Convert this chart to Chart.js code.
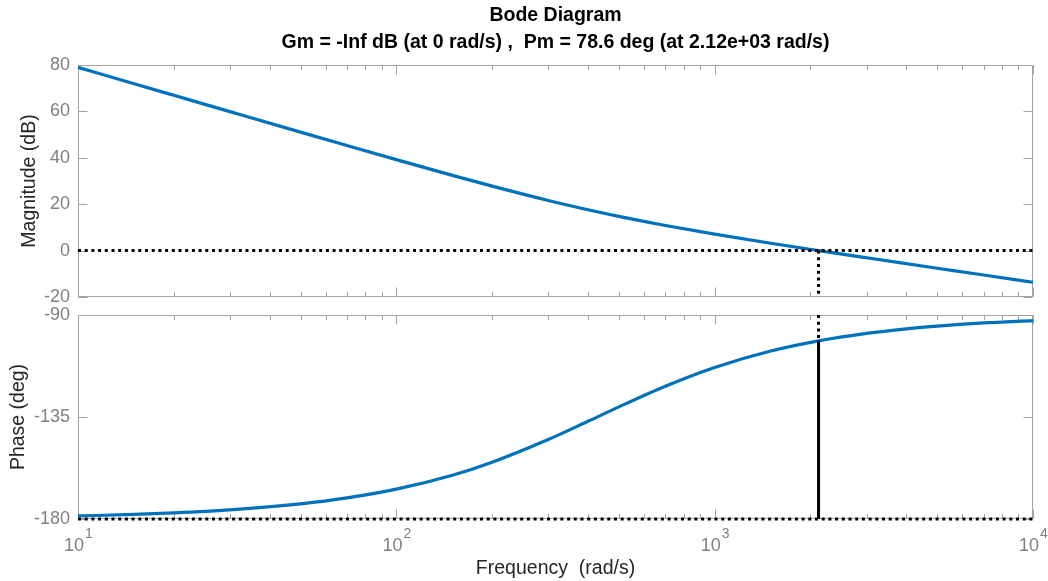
<!DOCTYPE html>
<html>
<head>
<meta charset="utf-8">
<title>Bode Diagram</title>
<script src="https://cdn.jsdelivr.net/npm/chart.js@4/dist/chart.umd.min.js"></script>
<style>
  html, body { margin: 0; padding: 0; background: #fff; }
  #wrap { position: relative; width: 1048px; height: 581px; overflow: hidden; }
  .pane { position: absolute; left: 0; }
  #mag-pane { top: 0; }
  #phase-pane { top: 290px; }
</style>
</head>
<body>
<div id="wrap">
  <div class="pane" id="mag-pane"><canvas id="mag-chart" width="1048" height="330"></canvas></div>
  <div class="pane" id="phase-pane"><canvas id="phase-chart" width="1048" height="291"></canvas></div>
</div>
<script>
// 周波数 (rad/s)
const freqs = [10, 15, 20, 30, 50, 70, 100, 150, 200, 300, 400, 500, 700,
  1000, 1500, 2120, 3000, 4000, 5000, 7000, 10000];
// ゲイン (dB)
const magDb = [78.97, 71.93, 66.94, 59.91, 51.07, 45.28, 39.20, 32.43, 27.79, 21.62,
  17.62, 14.75, 10.83, 7.08, 3.17, 0.00, -3.10, -5.64, -7.59, -10.53, -13.64];
// 位相 (deg)
const phaseDeg = [-178.66, -177.99, -177.32, -175.99, -173.33, -170.70, -166.83, -160.67,
  -154.93, -144.94, -136.90, -130.53, -121.42, -113.15, -105.91, -101.40, -98.11,
  -96.10, -94.89, -93.50, -92.45];

// 安定余裕
const crossoverFreq = 2120;
const phaseMargin = 78.6;
const phaseAtCrossover = -180 + phaseMargin;

// 軸の範囲と目盛り
const freqRange = [10, 10000];
const magRange = [-20, 80];
const magStep = 20;
const phaseRange = [-180, -90];
const phaseStep = 45;
const decadeTicks = [10, 100, 1000, 10000];
const decadeExponents = ['1', '2', '3', '4'];

const titleLines = ['Bode Diagram', 'Gm = -Inf dB (at 0 rad/s) ,  Pm = 78.6 deg (at 2.12e+03 rad/s)'];
const magLabel = 'Magnitude (dB)';
const phaseLabel = 'Phase (deg)';
const freqLabel = 'Frequency  (rad/s)';

const FONT = "'Liberation Sans', Arial, Helvetica, sans-serif";
const BOX_COLOR = '#a3a3a3';
const TICK_TEXT = '#808080';
const LABEL_TEXT = '#262626';
const LINE_BLUE = '#0072bd';

function toPoints(xs, ys) {
  return xs.map((x, i) => ({ x: x, y: ys[i] }));
}

const dotted = {
  borderColor: '#000',
  borderWidth: 3,
  borderDash: [3, 3.7],
  borderCapStyle: 'butt',
  order: 0,
  clip: 4
};

// 枠と内向きの目盛りを描く
const axesFrame = {
  id: 'axesFrame',
  beforeDatasetsDraw(chart) {
    const { ctx, chartArea: a, scales } = chart;
    const l = Math.round(a.left) + 0.5;
    const r = Math.round(a.right) - 0.5;
    const t = Math.round(a.top) + 0.5;
    const b = Math.round(a.bottom) - 0.5;
    ctx.save();
    ctx.strokeStyle = BOX_COLOR;
    ctx.lineWidth = 1;
    ctx.strokeRect(l, t, r - l, b - t);
    ctx.beginPath();
    // 周波数軸: 10倍ごとに主目盛り、間に補助目盛り
    for (let d = freqRange[0]; d <= freqRange[1]; d *= 10) {
      for (let m = 1; m <= 9; m++) {
        const v = d * m;
        if (v > freqRange[1]) break;
        const x = Math.round(scales.x.getPixelForValue(v)) + 0.5;
        const len = m === 1 ? 9 : 4.5;
        ctx.moveTo(x, t); ctx.lineTo(x, t + len);
        ctx.moveTo(x, b); ctx.lineTo(x, b - len);
      }
    }
    scales.y.ticks.forEach(tk => {
      const y = Math.round(scales.y.getPixelForValue(tk.value)) + 0.5;
      ctx.moveTo(l, y); ctx.lineTo(l + 9, y);
      ctx.moveTo(r, y); ctx.lineTo(r - 9, y);
    });
    ctx.stroke();
    ctx.restore();
  }
};

// 上段のタイトル（2行）
const titleText = {
  id: 'titleText',
  afterDraw(chart) {
    const { ctx, chartArea: a } = chart;
    const cx = (a.left + a.right) / 2;
    ctx.save();
    ctx.fillStyle = '#000';
    ctx.font = 'bold 19.5px ' + FONT;
    ctx.textAlign = 'center';
    ctx.textBaseline = 'middle';
    ctx.fillText(titleLines[0], cx, 16);
    ctx.fillText(titleLines[1], cx, 43);
    ctx.restore();
  }
};

// 周波数の目盛りラベル（10のべき乗）
const decadeLabels = {
  id: 'decadeLabels',
  afterDraw(chart) {
    const { ctx, chartArea: a, scales } = chart;
    ctx.save();
    ctx.fillStyle = TICK_TEXT;
    ctx.textBaseline = 'alphabetic';
    ctx.textAlign = 'left';
    decadeTicks.forEach((v, i) => {
      const x = scales.x.getPixelForValue(v);
      ctx.font = '18px ' + FONT;
      const wBase = ctx.measureText('10').width;
      ctx.font = '14px ' + FONT;
      const wExp = ctx.measureText(decadeExponents[i]).width;
      const x0 = x - (wBase + wExp) / 2;
      ctx.font = '18px ' + FONT;
      ctx.fillText('10', x0, a.bottom + 32);
      ctx.font = '14px ' + FONT;
      ctx.fillText(decadeExponents[i], x0 + wBase + 1, a.bottom + 19);
    });
    ctx.restore();
  }
};

function yScale(range, step, label, titlePad) {
  return {
    min: range[0],
    max: range[1],
    ticks: { stepSize: step, padding: 8, color: TICK_TEXT, font: { family: FONT, size: 18 } },
    grid: { display: false, drawTicks: false },
    border: { display: false },
    title: {
      display: true, text: label, color: LABEL_TEXT,
      font: { family: FONT, size: 19.5 }, padding: { top: titlePad, bottom: 0 }
    },
    afterFit(scale) { scale.width = 78; }
  };
}

const common = {
  responsive: false,
  animation: false,
  events: [],
  elements: { point: { radius: 0 } },
  plugins: { legend: { display: false }, tooltip: { enabled: false } }
};

// ゲイン線図
new Chart(document.getElementById('mag-chart'), {
  type: 'line',
  data: {
    datasets: [
      {
        data: toPoints(freqs, magDb),
        borderColor: LINE_BLUE, borderWidth: 3.2,
        cubicInterpolationMode: 'monotone', order: 1, clip: 4
      },
      Object.assign({ data: [{ x: freqRange[0], y: 0 }, { x: freqRange[1], y: 0 }] }, dotted),
      Object.assign({ data: [{ x: crossoverFreq, y: 0 }, { x: crossoverFreq, y: magRange[0] }] }, dotted)
    ]
  },
  options: Object.assign({}, common, {
    layout: { padding: { top: 65, right: 15, bottom: 33, left: 0 } },
    scales: {
      x: { type: 'logarithmic', min: freqRange[0], max: freqRange[1], display: false },
      y: yScale(magRange, magStep, magLabel, 18)
    }
  }),
  plugins: [axesFrame, titleText]
});

// 位相線図
new Chart(document.getElementById('phase-chart'), {
  type: 'line',
  data: {
    datasets: [
      {
        data: toPoints(freqs, phaseDeg),
        borderColor: LINE_BLUE, borderWidth: 3.2,
        cubicInterpolationMode: 'monotone', order: 1, clip: 4
      },
      Object.assign({ data: [{ x: freqRange[0], y: phaseRange[0] }, { x: freqRange[1], y: phaseRange[0] }] }, dotted),
      Object.assign({ data: [{ x: crossoverFreq, y: phaseRange[1] }, { x: crossoverFreq, y: phaseAtCrossover }] }, dotted),
      {
        data: [{ x: crossoverFreq, y: phaseAtCrossover }, { x: crossoverFreq, y: phaseRange[0] }],
        borderColor: '#000', borderWidth: 3, order: 0, clip: 4
      }
    ]
  },
  options: Object.assign({}, common, {
    layout: { padding: { top: 25, right: 15, bottom: 0, left: 0 } },
    scales: {
      x: {
        type: 'logarithmic', min: freqRange[0], max: freqRange[1],
        ticks: { display: false },
        grid: { display: false, drawTicks: false },
        border: { display: false },
        title: {
          display: true, text: freqLabel, color: LABEL_TEXT,
          font: { family: FONT, size: 19.5 }, padding: { top: 0, bottom: 1 }
        },
        afterFit(scale) { scale.height = 62; }
      },
      y: yScale(phaseRange, phaseStep, phaseLabel, 7)
    }
  }),
  plugins: [axesFrame, decadeLabels]
});
</script>
</body>
</html>
